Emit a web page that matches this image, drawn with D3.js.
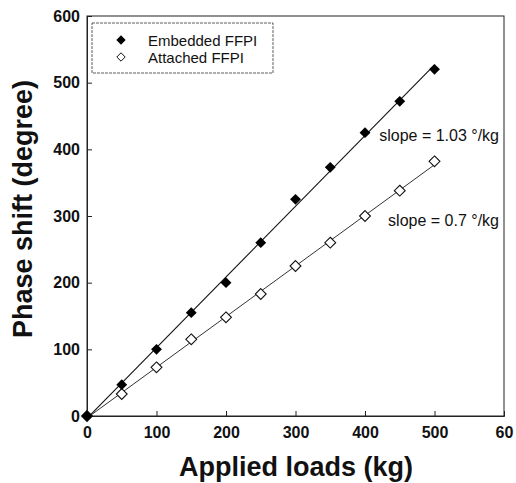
<!DOCTYPE html>
<html><head><meta charset="utf-8">
<script src="https://cdn.jsdelivr.net/npm/d3@7/dist/d3.min.js"></script>
<style>body{margin:0;background:#fff}svg{display:block}text{font-family:Arial,"Liberation Sans",sans-serif}</style>
</head><body><div id="chart"></div>
<script>
const loads = [0,50,100,150,200,250,300,350,400,450,500];
const embedded = [0,47,100,155,200,260,325,373,425,472,520];
const attached = [0,33,73,115,148,183,225,260,300,338,382];
const xTicks = [0,100,200,300,400,500,600];
const yTicks = [0,100,200,300,400,500,600];
const seriesNames = ["Embedded FFPI","Attached FFPI"];
const slopeLabels = ["slope = 1.03 °/kg","slope = 0.7 °/kg"];

const W=516,H=483;
const svg=d3.select("#chart").append("svg").attr("width",W).attr("height",H);
const x=d3.scaleLinear().domain([0,600]).range([87,504]);
const y=d3.scaleLinear().domain([0,600]).range([416,16]);

svg.append("rect").attr("x",87).attr("y",16).attr("width",417).attr("height",400)
  .attr("fill","none").attr("stroke","#222").attr("stroke-width",1);

const xa=svg.append("g").attr("transform","translate(0,416)")
  .call(d3.axisBottom(x).tickValues(xTicks).tickSize(-5).tickPadding(11).tickFormat(d=>d===600?"60":d));
const ya=svg.append("g").attr("transform","translate(87,0)")
  .call(d3.axisLeft(y).tickValues(yTicks).tickSize(-5).tickPadding(7));
[xa,ya].forEach(a=>{a.select(".domain").attr("stroke","#222");
  a.selectAll(".tick line").attr("stroke","#222");
  a.selectAll(".tick text").attr("font-size",16).attr("font-weight","bold").attr("fill","#111").attr("font-family","Arial,'Liberation Sans',sans-serif");});
xa.selectAll(".tick text").attr("dy","0.71em");

// least-squares fit lines through the measured points
function fit(ys){
  const mx=d3.mean(loads), my=d3.mean(ys);
  const sxy=d3.sum(loads,(v,i)=>(v-mx)*(ys[i]-my)), sxx=d3.sum(loads,v=>(v-mx)*(v-mx));
  const b=sxy/sxx, a=my-b*mx;
  const x0=d3.min(loads), x1=d3.max(loads);
  return [[x0,a+b*x0],[x1,a+b*x1]];
}
const line=d3.line().x(d=>x(d[0])).y(d=>y(d[1]));
svg.append("path").datum(fit(embedded)).attr("d",line).attr("fill","none").attr("stroke","#111").attr("stroke-width",1.1);
svg.append("path").datum(fit(attached)).attr("d",line).attr("fill","none").attr("stroke","#333").attr("stroke-width",1);

const diamond=d3.symbol().type(d3.symbolDiamond2).size(75);
svg.append("g").selectAll("path").data(attached).join("path")
  .attr("d",diamond).attr("transform",(d,i)=>`translate(${x(loads[i])},${y(d)})`)
  .attr("fill","#fff").attr("stroke","#111").attr("stroke-width",1.1);
svg.append("g").selectAll("path").data(embedded).join("path")
  .attr("d",diamond).attr("transform",(d,i)=>`translate(${x(loads[i])},${y(d)})`)
  .attr("fill","#000");

svg.append("rect").attr("x",92).attr("y",23).attr("width",181).attr("height",50)
  .attr("fill","#fff").attr("stroke","#333").attr("stroke-width",0.8).attr("stroke-dasharray","3,1");
const leg=svg.append("g");
seriesNames.forEach((n,i)=>{
  const cy=40+i*17;
  leg.append("path").attr("d",d3.symbol().type(d3.symbolDiamond2).size(i?45:55)())
    .attr("transform",`translate(121,${cy})`)
    .attr("fill",i?"#fff":"#000").attr("stroke","#111").attr("stroke-width",i?1:0);
  leg.append("text").attr("x",148).attr("y",cy+5.5).attr("font-size",15).attr("fill","#111").text(n);
});

svg.append("text").attr("x",499).attr("y",141).attr("text-anchor","end").attr("font-size",16).attr("fill","#111").text(slopeLabels[0]);
svg.append("text").attr("x",499).attr("y",226).attr("text-anchor","end").attr("font-size",16).attr("fill","#111").text(slopeLabels[1]);

svg.append("text").attr("x",296).attr("y",476).attr("text-anchor","middle").attr("font-size",27).attr("font-weight","bold").attr("fill","#111").text("Applied loads (kg)");
svg.append("text").attr("transform","translate(32,209) rotate(-90)").attr("text-anchor","middle").attr("font-size",27).attr("font-weight","bold").attr("fill","#111").text("Phase shift (degree)");
</script></body></html>
